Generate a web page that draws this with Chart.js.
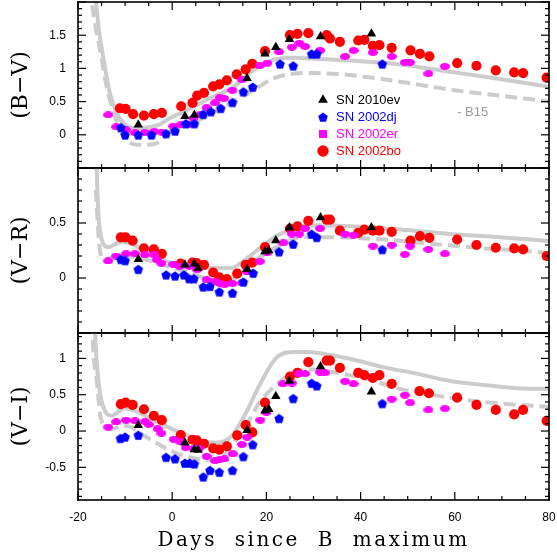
<!DOCTYPE html>
<html><head><meta charset="utf-8">
<script src="https://cdn.jsdelivr.net/npm/chart.js@4"></script>
<style>
html,body{margin:0;padding:0;background:#fff;width:557px;height:558px;overflow:hidden}
canvas{position:absolute;left:0}
#c1{top:0}#c2{top:164px}#c3{top:329px}
</style></head><body>
<canvas id="c1" width="557" height="172"></canvas>
<canvas id="c2" width="557" height="173"></canvas>
<canvas id="c3" width="557" height="229"></canvas>
<script>
// ---------- data ----------
const dayRange = [-20, 80];
const dayTicks = [-20, 0, 20, 40, 60, 80];
const xTitle = 'Days since B maximum';
const seriesNames = ['SN 2010ev', 'SN 2002dj', 'SN 2002er', 'SN 2002bo'];
const panelTitles = ['(B\u2212V)', '(V\u2212R)', '(V\u2212I)'];
const panelRanges = [[-0.5, 2], [-0.5, 1], [-0.95, 1.35]];
const panelLabels = [[0, 0.5, 1, 1.5], [0, 0.5], [-0.5, 0, 0.5, 1]];
const modelNote = { text: '- B15', x: 60.5, y: 0.33 };

// (B-V)
const BV_2010ev = [[-7.2,0.15],[2.7,0.28],[4.7,0.30],[15.9,0.85],[19.7,1.22],[22.0,1.32],[24.9,1.44],[31.5,1.48],[42.3,1.52]];
const BV_2002dj = [[-10.9,0.11],[-10.0,0.0],[-7.2,0.0],[-4.4,0.0],[-1.3,0.02],[0.6,0.06],[2.9,0.17],[4.7,0.17],[6.6,0.31],[8.2,0.35],[10.3,0.40],[12.8,0.49],[15.1,0.65],[17.1,0.72],[22.9,1.07],[25.7,1.04],[29.6,1.22],[30.7,1.22],[44.6,1.07]];
const BV_2002er = [[-13.6,0.30],[-11.9,0.12],[-9.8,0.075],[-7.9,0.03],[-5.8,0.035],[-3.8,0.05],[-2.2,0.04],[0.2,0.13],[1.8,0.15],[3.4,0.15],[4.5,0.25],[6.0,0.31],[7.3,0.41],[9.1,0.48],[10.1,0.56],[11.0,0.55],[12.8,0.67],[14.8,0.83],[18.6,1.04],[20.2,1.08],[22.7,1.25],[25.4,1.32],[27.0,1.38],[28.2,1.33],[31.4,1.27],[36.7,1.18],[38.5,1.27],[42.6,1.24],[46.6,1.18],[49.4,1.09],[50.5,1.09],[54.4,0.92],[57.9,1.03]];
const BV_2002bo = [[-11.1,0.40],[-9.9,0.39],[-8.3,0.31],[-6.0,0.29],[-3.9,0.31],[-2.2,0.33],[1.9,0.43],[4.3,0.48],[5.3,0.59],[6.75,0.63],[8.7,0.73],[10.0,0.76],[11.6,0.82],[13.7,0.91],[15.6,0.985],[17.0,1.07],[19.7,1.26],[25.0,1.50],[26.6,1.52],[28.9,1.53],[32.8,1.50],[33.5,1.45],[35.6,1.40],[39.5,1.42],[40.8,1.43],[42.6,1.34],[44.0,1.35],[46.6,1.31],[50.6,1.27],[52.6,1.22],[54.6,1.18],[60.5,1.08],[64.6,1.04],[68.7,0.97],[72.6,0.94],[74.5,0.93],[79.5,0.86]];
const BV_modelSolid = [[-16.3,2.1],[-15.6,1.6],[-14.6,1.15],[-13.2,0.62],[-11.8,0.33],[-10,0.15],[-7.9,0.10],[-5.4,0.11],[-2.9,0.15],[-0.5,0.25],[3.1,0.37],[8,0.55],[13,0.72],[17.2,0.97],[21.5,1.13],[25.7,1.16],[29.3,1.15],[37.7,1.12],[48.4,1.06],[59,0.95],[69.6,0.84],[80.2,0.72]];
const BV_modelDashed = [[-17,1.95],[-16.2,1.6],[-15.3,1.27],[-13.9,0.72],[-12.1,0.27],[-10,-0.05],[-7.5,-0.15],[-5.1,-0.15],[-2.6,-0.10],[-0.5,0.05],[3.1,0.15],[8,0.30],[13,0.50],[17.2,0.67],[21.5,0.85],[25.7,0.92],[29.3,0.93],[37.7,0.90],[48.4,0.80],[59,0.68],[69.6,0.59],[80.2,0.50]];

// (V-R)
const VR_2010ev = [[-7.2,0.17],[2.7,0.12],[4.7,0.13],[5.5,0.09],[15.9,0.08],[19.7,0.24],[20.5,0.25],[22.0,0.34],[24.9,0.46],[31.5,0.55],[42.3,0.46]];
const VR_2002dj = [[-10.9,0.17],[-10.0,0.16],[-7.2,0.08],[-1.3,0.03],[0.6,0.02],[2.5,0.03],[3.6,-0.005],[4.6,-0.005],[6.6,-0.08],[8.0,-0.075],[10.0,-0.125],[12.8,-0.135],[15.1,-0.035],[17.2,0.045],[22.7,0.24],[25.7,0.31],[29.6,0.40],[30.7,0.37],[44.6,0.26]];
const VR_2002er = [[-13.6,0.155],[-11.9,0.20],[-9.8,0.22],[-7.9,0.22],[-5.8,0.21],[-3.8,0.21],[-3.3,0.165],[-2.3,0.135],[0.2,0.125],[1.6,0.105],[3.6,0.105],[5.3,0.075],[7.3,-0.015],[9.1,-0.03],[10.1,-0.05],[11.1,-0.06],[12.8,-0.05],[14.8,-0.045],[15.9,0.055],[18.6,0.15],[20.2,0.23],[23.6,0.32],[25.4,0.40],[27.0,0.40],[28.2,0.45],[31.4,0.45],[36.7,0.40],[38.5,0.39],[42.6,0.29],[46.6,0.30],[49.4,0.215],[50.5,0.29],[54.4,0.26],[57.9,0.22]];
const VR_2002bo = [[-10.9,0.37],[-9.9,0.37],[-8.4,0.34],[-6.0,0.27],[-3.9,0.26],[-2.2,0.22],[1.8,0.13],[4.3,0.14],[5.2,0.135],[6.75,0.12],[8.7,0.05],[10.0,0.005],[11.6,-0.01],[13.8,0.04],[15.6,0.12],[17.0,0.14],[19.7,0.28],[25.0,0.45],[26.6,0.47],[28.9,0.52],[32.8,0.53],[33.5,0.53],[35.6,0.43],[39.5,0.41],[40.8,0.44],[42.6,0.43],[44.0,0.43],[46.6,0.42],[50.6,0.34],[52.6,0.38],[54.6,0.365],[60.5,0.35],[64.6,0.30],[68.7,0.275],[72.6,0.27],[74.5,0.26],[79.5,0.20]];
const VR_modelSolid = [[-16.1,1.1],[-15.7,0.6],[-15.2,0.4],[-14.3,0.29],[-13.5,0.28],[-12,0.31],[-10.5,0.33],[-8.5,0.31],[-6,0.25],[-3,0.19],[0,0.135],[4.7,0.105],[8.2,0.09],[12.5,0.09],[15.4,0.165],[18.9,0.28],[22.5,0.39],[26,0.45],[29.5,0.48],[37.7,0.47],[48.4,0.44],[59,0.40],[69.6,0.37],[80.2,0.335]];
const VR_modelDashed = [[-16.2,0.8],[-15.6,0.35],[-15.2,0.22],[-14.3,0.17],[-12.5,0.19],[-10,0.2],[-8,0.19],[-5,0.16],[-2,0.12],[1,0.08],[4,0.04],[7,0.0],[10,-0.03],[12.5,-0.02],[15,0.06],[17.5,0.15],[20,0.23],[23,0.3],[27.1,0.37],[34.2,0.37],[44.8,0.35],[55.4,0.31],[66,0.27],[76.6,0.24],[80.2,0.225]];

// (V-I)
const VI_2010ev = [[-7.2,0.08],[2.7,-0.16],[4.7,-0.255],[5.5,-0.26],[15.9,0.01],[19.7,0.28],[20.5,0.30],[22.0,0.48],[24.9,0.69],[31.5,0.89],[42.3,0.54]];
const VI_2002dj = [[-11.0,-0.10],[-10.0,-0.08],[-7.2,-0.055],[-1.3,-0.36],[0.6,-0.38],[2.7,-0.44],[3.7,-0.44],[4.7,-0.45],[6.6,-0.63],[8.0,-0.54],[10.0,-0.565],[12.8,-0.54],[15.1,-0.35],[17.1,-0.185],[22.7,0.175],[25.7,0.45],[29.6,0.66],[30.7,0.625],[44.6,0.38]];
const VI_2002er = [[-13.6,0.055],[-11.9,0.125],[-9.8,0.15],[-7.9,0.14],[-5.8,0.13],[-5.0,0.09],[-3.1,0.03],[-2.3,-0.03],[0.3,-0.115],[1.7,-0.15],[2.9,-0.23],[4.6,-0.24],[5.7,-0.24],[7.3,-0.35],[9.1,-0.41],[10.1,-0.39],[11.1,-0.385],[12.9,-0.315],[14.8,-0.185],[15.9,-0.085],[18.7,0.15],[20.0,0.255],[23.5,0.65],[25.4,0.66],[26.9,0.79],[28.2,0.79],[31.4,0.81],[32.4,0.80],[36.7,0.685],[38.5,0.65],[46.6,0.44],[49.4,0.495],[50.5,0.39],[54.4,0.29],[57.9,0.31]];
const VI_2002bo = [[-10.9,0.37],[-9.9,0.39],[-8.4,0.36],[-6.0,0.30],[-3.9,0.21],[-2.2,0.15],[1.8,-0.055],[4.3,-0.12],[5.2,-0.13],[6.75,-0.175],[8.7,-0.24],[10.0,-0.255],[11.6,-0.21],[13.8,-0.06],[15.6,0.08],[17.0,-0.02],[19.7,0.39],[25.0,0.75],[26.6,0.80],[28.9,0.95],[32.8,0.97],[33.5,0.97],[35.6,0.87],[39.5,0.80],[40.8,0.77],[42.6,0.73],[44.0,0.77],[46.6,0.65],[52.5,0.55],[54.5,0.52],[60.5,0.46],[64.6,0.36],[68.7,0.29],[72.6,0.23],[74.5,0.29],[79.5,0.14]];
const VI_modelSolid = [[-16.6,1.6],[-16,0.93],[-15.3,0.51],[-14.3,0.28],[-12.8,0.21],[-11.8,0.25],[-10.3,0.31],[-7.9,0.28],[-4.3,0.16],[-0.8,0.05],[2.7,-0.05],[6.3,-0.14],[9.4,-0.16],[12.6,-0.07],[15.5,0.23],[18.3,0.60],[21.9,0.995],[26.1,1.09],[28.9,1.09],[32.8,1.055],[37.7,0.995],[44.8,0.88],[51.9,0.79],[59,0.69],[66,0.635],[73.1,0.59],[80.2,0.58]];
const VI_modelDashed = [[-17,1.5],[-16.7,1.06],[-16,0.69],[-15.3,0.23],[-14,0.06],[-12.5,0.03],[-11,0.07],[-9,0.06],[-6.3,-0.05],[-2.8,-0.185],[0.7,-0.30],[4.3,-0.37],[7,-0.40],[9.5,-0.38],[11.5,-0.30],[13,-0.17],[15.5,0.05],[18.3,0.37],[21.9,0.625],[25.4,0.79],[28.9,0.85],[34.2,0.81],[41.2,0.72],[48.3,0.58],[55.4,0.495],[62.5,0.425],[69.6,0.38],[80.2,0.33]];

const panelSeries = [
  [BV_2010ev, BV_2002dj, BV_2002er, BV_2002bo],
  [VR_2010ev, VR_2002dj, VR_2002er, VR_2002bo],
  [VI_2010ev, VI_2002dj, VI_2002er, VI_2002bo]
];
const panelModels = [[BV_modelSolid, BV_modelDashed], [VR_modelSolid, VR_modelDashed], [VI_modelSolid, VI_modelDashed]];

// ---------- styles ----------
const seriesColors = ['#000000', '#0000ff', '#ff00ff', '#ff0000'];
const modelColor = '#cccccc';

function pentagon(color, r) {
  const c = document.createElement('canvas');
  const s = Math.ceil(2 * r + 2); c.width = c.height = s;
  const g = c.getContext('2d'); g.fillStyle = color; g.beginPath();
  for (let i = 0; i < 5; i++) {
    const a = -Math.PI / 2 + i * 2 * Math.PI / 5;
    const px = s / 2 + r * Math.cos(a), py = s / 2 + 0.6 + r * Math.sin(a);
    if (i) g.lineTo(px, py); else g.moveTo(px, py);
  }
  g.closePath(); g.fill(); return c;
}
function blob(color, w, h) {
  const c = document.createElement('canvas'); c.width = w; c.height = h;
  const g = c.getContext('2d'); g.fillStyle = color; g.beginPath();
  g.ellipse(w / 2, h / 2, w / 2, h / 2, 0, 0, Math.PI * 2); g.fill();
  g.fillRect(1.5, 1, w - 3, h - 2); return c;
}
const markerStyles = ['triangle', pentagon('#0000ff', 5), blob('#ff00ff', 10, 7), 'circle'];
const legendStyles = ['triangle', markerStyles[1], 'rect', 'circle'];
const markerRadii = [5.5, 5, 5, 5.1];

function pts(arr) { return arr.map(p => ({ x: p[0], y: p[1] })); }

function buildDatasets(pi) {
  const ds = panelSeries[pi].map((arr, i) => ({
    label: seriesNames[i], data: pts(arr),
    pointStyle: markerStyles[i], pointRadius: markerRadii[i],
    backgroundColor: seriesColors[i], borderColor: seriesColors[i],
    borderWidth: 0, pointBorderWidth: 0, showLine: false, clip: 0
  }));
  const [solid, dashed] = panelModels[pi];
  ds.push({ label: 'model solid', data: pts(solid), showLine: true, borderColor: modelColor, borderWidth: 4,
    pointRadius: 0, cubicInterpolationMode: 'monotone', fill: false, clip: 0 });
  ds.push({ label: 'model dashed', data: pts(dashed), showLine: true, borderColor: modelColor, borderWidth: 4,
    borderDash: [12, 6], pointRadius: 0, cubicInterpolationMode: 'monotone', fill: false, clip: 0 });
  return ds;
}

// ---------- plugins ----------
function drawFrame(chart) {
  const ctx = chart.ctx, a = chart.chartArea, xs = chart.scales.x, ys = chart.scales.y;
  ctx.save();
  ctx.fillStyle = '#000';
  const tw = 1.2;
  for (let v = dayRange[0]; v <= dayRange[1] + 1e-6; v += 5) {
    const p = xs.getPixelForValue(v);
    const L = Math.abs(v % 20) < 1e-6 ? 8 : 4;
    ctx.fillRect(p - tw / 2, a.bottom - L, tw, L);
    ctx.fillRect(p - tw / 2, a.top, tw, L);
  }
  const k0 = Math.ceil(ys.min * 10 - 1e-6);
  for (let k = k0; k / 10 <= ys.max + 1e-6; k++) {
    const p = ys.getPixelForValue(k / 10);
    const L = (k % 5 === 0) ? 8 : 4;
    ctx.fillRect(a.left, p - tw / 2, L, tw);
    ctx.fillRect(a.right - L, p - tw / 2, L, tw);
  }
  const bw = 1.6;
  ctx.fillRect(a.left - bw / 2, a.top - bw / 2, a.right - a.left + bw, bw);
  ctx.fillRect(a.left - bw / 2, a.bottom - bw / 2, a.right - a.left + bw, bw);
  ctx.fillRect(a.left - bw / 2, a.top - bw / 2, bw, a.bottom - a.top + bw);
  ctx.fillRect(a.right - bw / 2, a.top - bw / 2, bw, a.bottom - a.top + bw);
  ctx.restore();
}
const decorPlugin = {
  id: 'decor',
  afterDraw(chart, args, opts) {
    drawFrame(chart);
    if (opts && opts.text) {
      const ctx = chart.ctx; ctx.save();
      ctx.font = '13px "Liberation Sans", Arial, sans-serif'; ctx.fillStyle = '#999';
      ctx.textBaseline = 'middle'; ctx.textAlign = 'left';
      ctx.fillText(opts.text, chart.scales.x.getPixelForValue(opts.x), chart.scales.y.getPixelForValue(opts.y));
      ctx.restore();
    }
  }
};
const legendPlacer = {
  id: 'legendPlacer',
  afterLayout(chart, args, opts) {
    const lg = chart.legend; if (!lg || !opts || !opts.enabled) return;
    const a = chart.chartArea;
    const pad = lg.options.labels.padding;
    const colH = (lg.columnSizes && lg.columnSizes[0]) ? lg.columnSizes[0].height : 68;
    lg.left = a.left + opts.dx; lg.top = a.top + opts.dy;
    lg.right = lg.left + lg.width;
    lg.bottom = lg.top + pad + colH + 1;
    lg.height = lg.bottom - lg.top;
  }
};
const spacedTitle = {
  id: 'spacedTitle',
  beforeDraw(chart) {
    const s = chart.scales.x;
    if (!s || s._spaced) return;
    const orig = s.drawTitle.bind(s);
    s.drawTitle = function () {
      const c = this.ctx; c.save();
      try { c.letterSpacing = '2.5px'; c.wordSpacing = '9px'; } catch (e) {}
      orig(); c.restore();
    };
    s._spaced = true;
  }
};

Chart.defaults.font.family = '"Liberation Sans", Arial, sans-serif';
Chart.defaults.font.size = 12;
Chart.defaults.color = '#000';

function makeChart(id, pi) {
  const isTop = pi === 0, isBottom = pi === 2;
  return new Chart(document.getElementById(id), {
    type: 'scatter',
    data: { datasets: buildDatasets(pi) },
    options: {
      responsive: false, animation: false, events: [],
      layout: { autoPadding: false, padding: { left: 0, right: 8, top: isTop ? 2 : 4, bottom: isBottom ? 0 : 4 } },
      scales: {
        x: {
          type: 'linear', min: dayRange[0], max: dayRange[1], display: isBottom,
          afterFit: s => { if (isBottom) s.height = 58; s.paddingLeft = 0; s.paddingRight = 0; },
          afterBuildTicks: s => { s.ticks = dayTicks.map(v => ({ value: v })); },
          grid: { display: false, drawTicks: false }, border: { display: false },
          ticks: { padding: 10, maxRotation: 0, autoSkip: false, color: '#000', font: { size: 12 }, callback: v => String(v) },
          title: { display: true, text: xTitle, color: '#000', font: { family: '"DejaVu Serif", serif', size: 20 }, padding: { top: 4, bottom: 5 } }
        },
        y: {
          type: 'linear', min: panelRanges[pi][0], max: panelRanges[pi][1],
          afterFit: s => { s.width = 78; s.paddingTop = 0; s.paddingBottom = 0; },
          afterBuildTicks: s => { s.ticks = panelLabels[pi].map(v => ({ value: v })); },
          grid: { display: false, drawTicks: false }, border: { display: false },
          ticks: { padding: 12, color: '#000', font: { size: 12 }, callback: v => String(v) },
          title: { display: true, text: panelTitles[pi], color: '#000', font: { family: '"DejaVu Serif", serif', size: 22 }, padding: { top: 8, bottom: 0 } }
        }
      },
      plugins: {
        tooltip: { enabled: false },
        legend: {
          display: isTop, position: 'chartArea', align: 'start',
          labels: {
            usePointStyle: true, boxWidth: 13, boxHeight: 8, padding: 4,
            font: { size: 13 },
            filter: item => seriesNames.includes(item.text),
            generateLabels: chart => {
              const items = Chart.defaults.plugins.legend.labels.generateLabels(chart);
              items.forEach(it => {
                const k = seriesNames.indexOf(it.text);
                it.fontColor = k >= 0 ? seriesColors[k] : '#000';
                if (k >= 0) it.pointStyle = legendStyles[k];
                it.lineWidth = 0;
              });
              return items;
            }
          }
        },
        legendPlacer: { enabled: isTop, dx: 234.5, dy: 87.5 },
        decor: isTop ? modelNote : {}
      }
    },
    plugins: [decorPlugin, legendPlacer, spacedTitle]
  });
}

makeChart('c1', 0);
makeChart('c2', 1);
makeChart('c3', 2);
</script></body></html>
